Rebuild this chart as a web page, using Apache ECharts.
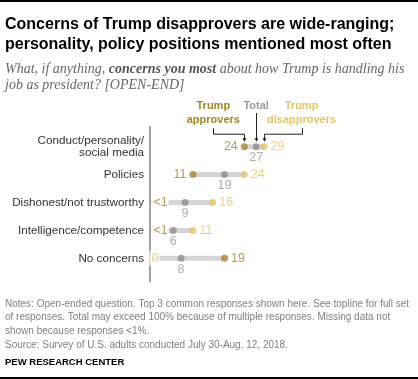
<!DOCTYPE html>
<html>
<head>
<meta charset="utf-8">
<script src="https://cdn.jsdelivr.net/npm/echarts@6/dist/echarts.min.js"></script>
<style>
html,body{margin:0;padding:0;background:#fff;}
#c{width:418px;height:379px;}
</style>
</head>
<body>
<div id="c"></div>
<script>
const categories = ['Conduct/personality/\nsocial media', 'Policies', 'Dishonest/not trustworthy', 'Intelligence/competence', 'No concerns'];
const approvers = [24, 11, 0.5, 0.5, 19];
const approverLabels = ['24', '11', '<1', '<1', '19'];
const total = [27, 19, 9, 6, 8];
const totalLabels = ['27', '19', '9', '6', '8'];
const disapprovers = [29, 24, 16, 11, 0];
const disapproverLabels = ['29', '24', '16', '11', '0'];

const C_APP = '#a2862a';
const C_TOT = '#8f8f8f';
const C_TOT_LBL = '#9a9a9a';
const C_DIS = '#e3c566';
const C_BAR = '#d5d5d5';
const SANS = 'Liberation Sans, Arial, sans-serif';

const chart = echarts.init(document.getElementById('c'), null, {renderer: 'canvas'});

function dotItems(values, labels, color, isApprover) {
  return values.map((v, i) => {
    const other = isApprover ? disapprovers[i] : approvers[i];
    const small = v < 1;
    let pos;
    if (small) pos = 'right';
    else if (isApprover) pos = v <= other ? 'left' : 'right';
    else pos = v >= other ? 'right' : 'left';
    return {
      value: [v, i],
      symbolSize: small ? 0 : 7,
      label: {
        show: true,
        position: pos,
        distance: small ? 0 : 3,
        formatter: labels[i],
        color: color,
        fontFamily: SANS,
        fontSize: 12.5,
        backgroundColor: small ? '#fff' : 'transparent',
        padding: small ? [1, 1, 1, 2] : 0
      }
    };
  });
}

const baseVals = approvers.map((a, i) => Math.min(a, disapprovers[i]));
const rangeVals = approvers.map((a, i) => Math.abs(disapprovers[i] - a));

chart.setOption({
  animation: false,
  title: [
    {
      text: 'Concerns of Trump disapprovers are wide-ranging;\npersonality, policy positions mentioned most often',
      left: 0, top: 10,
      textStyle: {fontFamily: SANS, fontWeight: 'bold', fontSize: 16, color: '#000', lineHeight: 20}
    },
    {
      text: '{i|What, if anything, }{b|concerns you most}{i| about how Trump is handling his}\n{i|job as president? [OPEN-END]}',
      left: 0, top: 56,
      textStyle: {
        fontWeight: 'normal',
        rich: {
          i: {fontFamily: 'Liberation Serif, serif', fontStyle: 'italic', fontWeight: 'normal', fontSize: 14, color: '#666', lineHeight: 16},
          b: {fontFamily: 'Liberation Serif, serif', fontStyle: 'italic', fontWeight: 'bold', fontSize: 14, color: '#555', lineHeight: 16}
        }
      }
    },
    {
      text: 'Notes: Open-ended question. Top 3 common responses shown here. See topline for full set\nof responses. Total may exceed 100% because of multiple responses. Missing data not\nshown because responses <1%.\nSource: Survey of U.S. adults conducted July 30-Aug. 12, 2018.',
      left: 0, top: 292,
      textStyle: {fontFamily: SANS, fontSize: 10, color: '#808080', lineHeight: 13.7, fontWeight: 'normal'}
    },
    {
      text: 'PEW RESEARCH CENTER',
      left: 0, top: 351,
      textStyle: {fontFamily: SANS, fontSize: 9.5, color: '#000', fontWeight: 'bold', lineHeight: 12}
    }
  ],
  grid: {left: 149.5, right: 110.5, top: 132.75, bottom: 106.75, containLabel: false},
  xAxis: {
    type: 'value', min: 0, max: 40, show: false
  },
  yAxis: {
    type: 'category', inverse: true, data: categories,
    axisLine: {show: false}, axisTick: {show: false}, splitLine: {show: false},
    axisLabel: {
      margin: 5.5, align: 'right',
      formatter: v => v.split('\n').map(l => '{a|' + l + '}').join('\n'),
      rich: {a: {align: 'right', color: '#333', fontFamily: SANS, fontSize: 11.7, lineHeight: 12.5}}
    }
  },
  series: [
    {
      type: 'bar', stack: 'r', data: baseVals, barWidth: 5, silent: true,
      itemStyle: {color: 'transparent'}
    },
    {
      type: 'bar', stack: 'r', data: rangeVals, barWidth: 5, silent: true,
      itemStyle: {color: C_BAR}
    },
    {
      id: 'tot', type: 'scatter', symbol: 'circle', symbolSize: 7, z: 3,
      itemStyle: {color: C_TOT},
      data: total.map((v, i) => ({
        value: [v, i],
        label: {show: true, position: 'bottom', distance: 1, formatter: totalLabels[i], color: C_TOT_LBL, fontFamily: SANS, fontSize: 12.5}
      }))
    },
    {
      id: 'app', type: 'scatter', symbol: 'circle', z: 4,
      itemStyle: {color: C_APP},
      data: dotItems(approvers, approverLabels, C_APP, true)
    },
    {
      id: 'dis', type: 'scatter', symbol: 'circle', z: 4,
      itemStyle: {color: C_DIS},
      data: dotItems(disapprovers, disapproverLabels, C_DIS, false)
    }
  ]
});

// annotations anchored to first-row data points
const pA = chart.convertToPixel({seriesId: 'app'}, [approvers[0], 0]);
const pT = chart.convertToPixel({seriesId: 'tot'}, [total[0], 0]);
const pD = chart.convertToPixel({seriesId: 'dis'}, [disapprovers[0], 0]);
const p0top = chart.convertToPixel({seriesId: 'tot'}, [0, 0]);
const p0bot = chart.convertToPixel({seriesId: 'tot'}, [0, categories.length - 1]);

const tipY = pA[1] - 5.5;
const elbowY = pA[1] - 12.5;
const startY = pA[1] - 18.5;
const axApp = pA[0] - 31;
const axDis = pD[0] + 37.5;
const lineStyle = {stroke: '#222', lineWidth: 1, fill: null};

function arrow(x) {
  return {type: 'polygon', shape: {points: [[x - 2, tipY - 3], [x + 2, tipY - 3], [x, tipY + 0.5]]}, style: {fill: '#222'}, silent: true};
}

chart.setOption({
  graphic: [
    {type: 'rect', shape: {x: 0, y: 0, width: 418, height: 2}, style: {fill: '#000'}, silent: true},
    {type: 'rect', shape: {x: 0, y: 377, width: 418, height: 2}, style: {fill: '#000'}, silent: true},
    {type: 'line', shape: {x1: p0top[0] + 0.5, y1: p0top[1] - 20.5, x2: p0top[0] + 0.5, y2: p0bot[1] + 24}, style: {stroke: '#444', lineWidth: 1}, silent: true},
    {type: 'text', style: {text: 'Trump\napprovers', x: axApp, y: 99, textAlign: 'center', fill: C_APP, font: 'bold 11px ' + SANS, lineHeight: 14}, silent: true},
    {type: 'text', style: {text: 'Total', x: pT[0], y: 99, textAlign: 'center', fill: C_TOT_LBL, font: 'bold 11px ' + SANS, lineHeight: 14}, silent: true},
    {type: 'text', style: {text: 'Trump\ndisapprovers', x: axDis, y: 99, textAlign: 'center', fill: C_DIS, font: 'bold 11px ' + SANS, lineHeight: 14}, silent: true},
    {type: 'polyline', shape: {points: [[Math.round(axApp) + 0.5, startY], [Math.round(axApp) + 0.5, elbowY], [Math.round(pA[0]) + 0.5, elbowY], [Math.round(pA[0]) + 0.5, tipY - 2]]}, style: lineStyle, silent: true},
    {type: 'polyline', shape: {points: [[Math.round(axDis) + 0.5, startY], [Math.round(axDis) + 0.5, elbowY], [Math.round(pD[0]) + 0.5, elbowY], [Math.round(pD[0]) + 0.5, tipY - 2]]}, style: lineStyle, silent: true},
    {type: 'line', shape: {x1: Math.round(pT[0]) + 0.5, y1: 113, x2: Math.round(pT[0]) + 0.5, y2: tipY - 2}, style: {stroke: '#222', lineWidth: 1}, silent: true},
    arrow(Math.round(pA[0]) + 0.5),
    arrow(Math.round(pT[0]) + 0.5),
    arrow(Math.round(pD[0]) + 0.5)
  ]
});
</script>
</body>
</html>
